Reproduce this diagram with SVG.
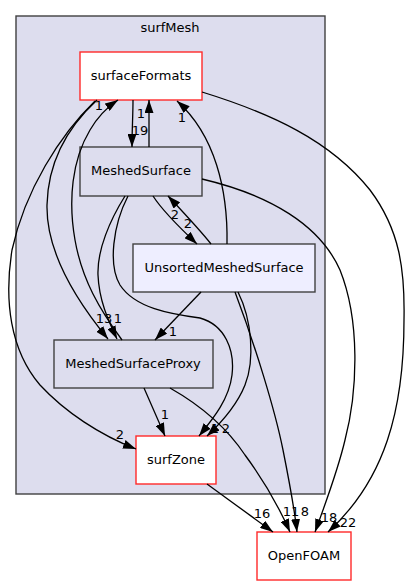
<svg xmlns="http://www.w3.org/2000/svg" width="411" height="585" viewBox="0 0 411 585">
<style>
text{font-family:"DejaVu Sans","Liberation Sans",sans-serif;font-size:13px;fill:#000}
.n{text-anchor:middle}
.l{text-anchor:middle}
.e{fill:none;stroke:#000;stroke-width:1.3;marker-end:url(#ah)}
.red{fill:#fff;stroke:#ff2a2a;stroke-width:1.4}
.dir{fill:#ddddee;stroke:#404040;stroke-width:1.4}
.uns{fill:#eeeeff;stroke:#404040;stroke-width:1.4}
</style>
<defs>
<marker id="ah" viewBox="0 0 13 9" refX="13" refY="4.5" markerWidth="13" markerHeight="9" markerUnits="userSpaceOnUse" orient="auto">
<path d="M0,0 L13,4.5 L0,9 z" fill="#000"/>
</marker>
</defs>
<g id="cluster_surfMesh">
<rect x="16" y="16" width="309" height="478" fill="#ddddee" stroke="#404040" stroke-width="1.4"/>
<text class="n" x="170" y="32">surfMesh</text>
</g>
<g id="node_surfaceFormats">
<rect class="red" x="80" y="52" width="122" height="48"/>
<text class="n" x="141" y="80">surfaceFormats</text>
</g>
<g id="node_MeshedSurface">
<rect class="dir" x="80" y="147" width="122" height="49"/>
<text class="n" x="141" y="175">MeshedSurface</text>
</g>
<g id="node_UnsortedMeshedSurface">
<rect class="uns" x="133" y="244" width="182" height="48"/>
<text class="n" x="224" y="272">UnsortedMeshedSurface</text>
</g>
<g id="node_MeshedSurfaceProxy">
<rect class="dir" x="54" y="340" width="159" height="48"/>
<text class="n" x="133" y="368">MeshedSurfaceProxy</text>
</g>
<g id="node_surfZone">
<rect class="red" x="136" y="436" width="80" height="48"/>
<text class="n" x="176" y="464">surfZone</text>
</g>
<g id="node_OpenFOAM">
<rect class="red" x="257" y="532" width="94" height="48"/>
<text class="n" x="304" y="560">OpenFOAM</text>
</g>
<g id="edge_labels">
<text class="l" x="140" y="135">19</text>
<text class="l" x="141" y="118">1</text>
<text class="l" x="182" y="122">1</text>
<text class="l" x="99" y="110">1</text>
<text class="l" x="175" y="219">2</text>
<text class="l" x="188" y="228">2</text>
<text class="l" x="104" y="323">13</text>
<text class="l" x="118" y="323">1</text>
<text class="l" x="173" y="336">1</text>
<text class="l" x="165" y="419">1</text>
<text class="l" x="120" y="439">2</text>
<text class="l" x="215" y="433">1</text>
<text class="l" x="226" y="433">2</text>
<text class="l" x="262" y="518">16</text>
<text class="l" x="291" y="516">11</text>
<text class="l" x="305" y="516">8</text>
<text class="l" x="329" y="522">18</text>
<text class="l" x="348" y="527">22</text>
</g>
<g id="edges">
<path class="e" d="M133,100 C133,115 132,130 132,147"/>
<path class="e" d="M149,147 C149,132 149,115 149,100"/>
<path class="e" d="M227,244 C228,190 215,135 177,101"/>
<path class="e" d="M153,196 C162,210 180,228 197,244"/>
<path class="e" d="M211,244 C200,230 183,212 168,196"/>
<path class="e" d="M202,92 C270,113 330,140 370,190 C400,230 405,270 404,320 C404,410 385,480 328,532"/>
<path class="e" d="M202,179 C270,195 320,225 340,270 C360,320 358,390 345,440 C338,470 325,505 315,532"/>
<path class="e" d="M235,292 C255,345 275,410 283,450 C289,480 294,505 297,532"/>
<path class="e" d="M238,292 C252,320 255,360 245,385 C237,405 222,422 207,436"/>
<path class="e" d="M128,196 C113,225 108,265 120,285 C135,308 170,314 200,318 C225,325 235,350 232,375 C229,400 212,420 199,436"/>
<path class="e" d="M125,196 C110,220 97,250 98,275 C99,300 108,320 117,339"/>
<path class="e" d="M97,100 C70,125 48,160 47,205 C46,255 80,305 108,339"/>
<path class="e" d="M95,101 C60,135 25,190 12,250 C4,300 10,350 40,385 C65,412 100,435 136,449"/>
<path class="e" d="M122,340 C100,310 82,280 75,240 C68,200 72,160 90,130 C97,118 106,108 118,100"/>
<path class="e" d="M201,292 L155,340"/>
<path class="e" d="M144,388 L165,436"/>
<path class="e" d="M170,388 C200,405 225,425 245,455 C262,478 278,505 290,532"/>
<path class="e" d="M207,484 L273,532"/>
</g>
</svg>
